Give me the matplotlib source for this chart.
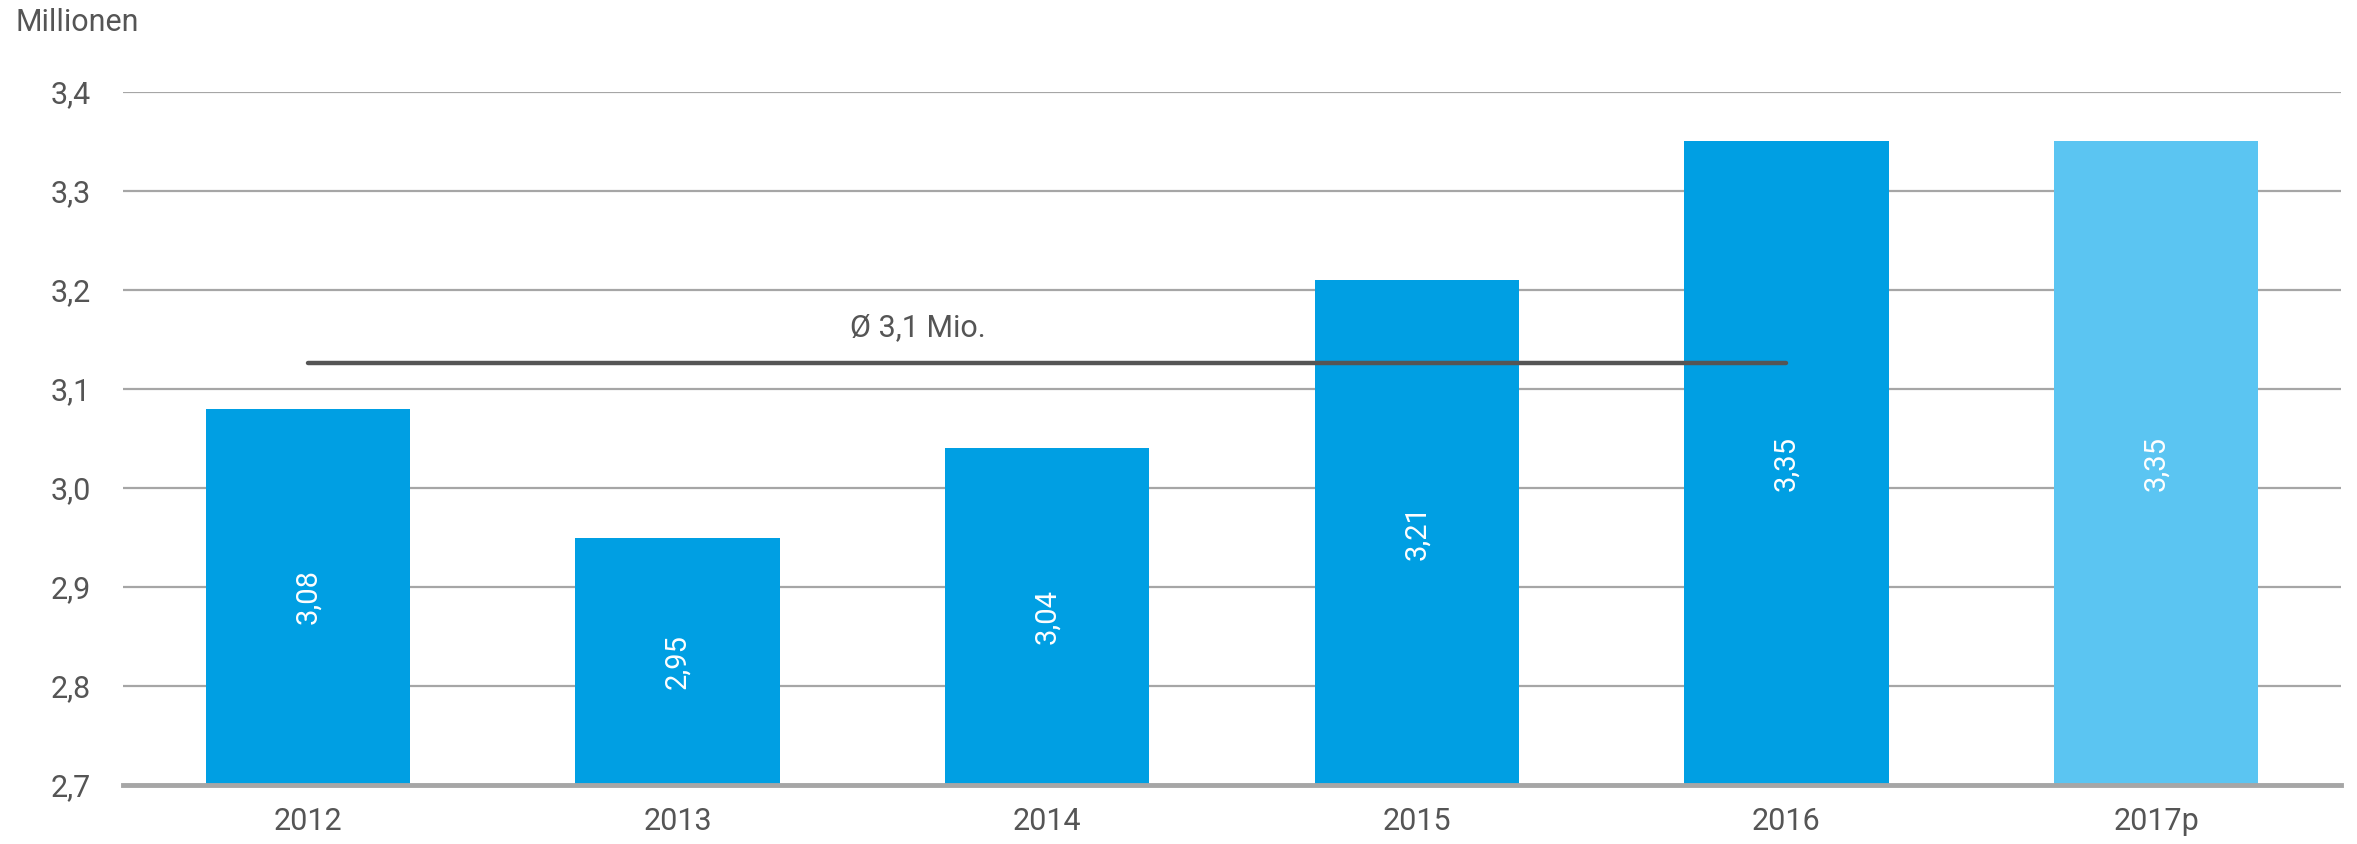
import matplotlib
matplotlib.use("Agg")
import matplotlib.pyplot as plt
import numpy as np

categories = ["2012", "2013", "2014", "2015", "2016", "2017p"]
values = [3.08, 2.95, 3.04, 3.21, 3.35, 3.35]
labels = ["3,08", "2,95", "3,04", "3,21", "3,35", "3,35"]
colors = ["#009FE3", "#009FE3", "#009FE3", "#009FE3", "#009FE3", "#5BC5F2"]
yticks = [2.7, 2.8, 2.9, 3.0, 3.1, 3.2, 3.3, 3.4]
ytick_labels = ["2,7", "2,8", "2,9", "3,0", "3,1", "3,2", "3,3", "3,4"]
avg_value = float(np.mean(values[:5]))
avg_label = "Ø 3,1 Mio."

plt.rcParams['font.family'] = ['Roboto', 'DejaVu Sans']
txt = "#555555"

fig = plt.figure(figsize=(23.57, 8.44), dpi=100)
ax = fig.add_axes([0.0522, 0.0699, 0.9410, 0.8211])

x = np.arange(len(categories))
ax.bar(x, [v - 2.7 for v in values], bottom=2.7, width=0.553, color=colors, zorder=3)

for xi, v, lab in zip(x, values, labels):
    ax.text(xi, (v + 2.7) / 2, lab, rotation=90, ha="center", va="center",
            color="white", fontsize=21, zorder=4)

ax.plot([0, 4], [avg_value, avg_value], color="#555555", lw=3.2,
        solid_capstyle="round", zorder=5)
ax.text(1.65, avg_value + 0.036, avg_label, ha="center", va="center",
        color=txt, fontsize=22, zorder=5)

ax.set_xlim(-0.5, 5.5)
ax.set_ylim(2.7, 3.4)
ax.set_yticks(yticks)
ax.set_yticklabels(ytick_labels)
ax.set_xticks(x)
ax.set_xticklabels(categories)
ax.tick_params(axis="y", length=0, pad=23, labelsize=22, labelcolor=txt)
ax.tick_params(axis="x", length=0, pad=16, labelsize=22, labelcolor=txt)
for s in ["top", "right", "left"]:
    ax.spines[s].set_visible(False)
ax.spines["bottom"].set_color("#a6a6a6")
ax.spines["bottom"].set_linewidth(3.5)
ax.spines["bottom"].set_zorder(6)
ax.yaxis.grid(True, color="#a6a6a6", lw=1.6, zorder=0)
ax.set_axisbelow(True)

fig.text(15 / 2357, 1 - 8 / 844, "Millionen", ha="left", va="top",
         color=txt, fontsize=22)

fig.savefig("out.png", dpi=100)
